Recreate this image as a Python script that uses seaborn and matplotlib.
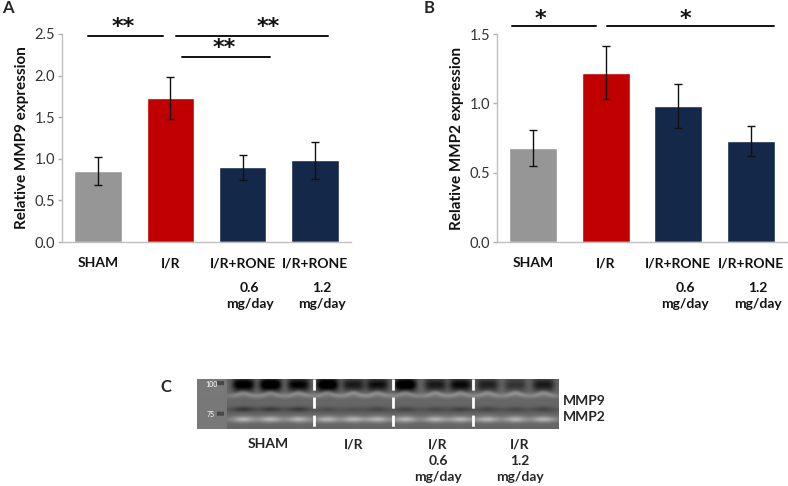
import numpy as np
import pandas as pd
import matplotlib
matplotlib.use("Agg")
import matplotlib.pyplot as plt
import matplotlib.transforms as mtransforms
import seaborn as sns

# ---- data ----
groups = ["SHAM", "I/R", "I/R+RONE 0.6", "I/R+RONE 1.2"]
tick_names = ["SHAM", "I/R", "I/R+RONE", "I/R+RONE"]
doses = ["", "", "0.6\nmg/day", "1.2\nmg/day"]
bar_colors = ["#969696", "#c00000", "#14284a", "#14284a"]

mmp9_mean = [0.85, 1.73, 0.90, 0.98]
mmp9_low = [0.68, 1.48, 0.75, 0.76]
mmp9_high = [1.02, 1.98, 1.05, 1.20]

mmp2_mean = [0.68, 1.22, 0.98, 0.73]
mmp2_low = [0.55, 1.03, 0.82, 0.62]
mmp2_high = [0.81, 1.41, 1.14, 0.84]

# significance bars: (x start, x end, y, label, label x, label y)
sig_a = [(-0.14, 0.90, 2.47, "**", 0.35, 2.58),
         (1.08, 3.18, 2.47, "**", 2.35, 2.58),
         (1.16, 2.38, 2.22, "**", 1.75, 2.33)]
sig_b = [(-0.29, 0.86, 1.555, "*", 0.10, 1.61),
         (1.02, 3.32, 1.555, "*", 2.10, 1.61)]

# zymography gel: lane positions (px inside gel) and band darkness
gel_lanes = [46, 73, 101, 130, 156, 180, 208, 238, 263, 290, 318, 346]
mmp9_band = [0.9, 1.0, 0.8, 1.0, 0.6, 0.7, 1.0, 0.6, 0.75, 0.55, 0.4, 0.6]
mmp2_band = [0.5, 0.45, 0.45, 0.2, 0.15, 0.3, 0.3, 0.25, 0.35, 0.3, 0.25, 0.3]
gel_dividers = [117, 196, 276]
gel_groups = ["SHAM", "I/R", "I/R\n0.6\nmg/day", "I/R\n1.2\nmg/day"]

sns.set_theme(style="white")
plt.rcParams["font.family"] = ["Lato", "DejaVu Sans"]

W, H = 788, 486
fig = plt.figure(figsize=(W / 100, H / 100), dpi=100)


def frac(x, y):
    return x / W, 1 - y / H


def bar_panel(rect, means, lows, highs, ymax, yticks, ylabel, sigs):
    ax = fig.add_axes(rect)
    df = pd.DataFrame({"group": groups, "value": means})
    sns.barplot(data=df, x="group", y="value", hue="group", palette=bar_colors,
                width=0.66, errorbar=None, legend=False, ax=ax, saturation=1)
    err = [np.array(means) - np.array(lows), np.array(highs) - np.array(means)]
    ax.errorbar(range(4), means, yerr=err, fmt="none", ecolor="#111111",
                elinewidth=1, capsize=3, capthick=1)
    ax.set_xlim(-0.5, 3.5)
    ax.set_ylim(0, ymax)
    ax.set_yticks(yticks)
    ax.set_yticklabels([f"{t:.1f}" for t in yticks], fontsize=10.5, color="#333333")
    ax.set_xticks(range(4))
    ax.set_xticklabels(tick_names, fontsize=10, fontweight="bold", color="#111111")
    ax.set_xticks([-0.5, 0.5, 1.5, 2.5, 3.5], minor=True)
    ax.tick_params(axis="x", which="major", length=0, pad=11)
    ax.tick_params(axis="x", which="minor", length=4, color="#b0b0b0", width=1, direction="out")
    ax.tick_params(axis="y", length=3, color="#b0b0b0", width=1, direction="out", left=True, pad=2)
    ax.set_xlabel("")
    ax.set_ylabel(ylabel, fontsize=11, fontweight="bold", color="#111111", labelpad=4)
    for s in ["top", "right"]:
        ax.spines[s].set_visible(False)
    for s in ["left", "bottom"]:
        ax.spines[s].set_color("#bfbfbf")
        ax.spines[s].set_linewidth(1)
    trans = mtransforms.blended_transform_factory(ax.transData, ax.transAxes)
    for i, d in enumerate(doses):
        if d:
            ax.text(i + 0.1, -0.19, d, transform=trans, ha="center", va="top",
                    fontsize=10, fontweight="bold", color="#111111", linespacing=1.45)
    for x0, x1, y, lab, lx, ly in sigs:
        ax.plot([x0, x1], [y, y], color="#111111", lw=1.4, clip_on=False)
        ax.text(lx, ly, lab, ha="center", va="center", fontsize=16,
                fontweight="bold", color="#111111", family="DejaVu Sans")
    return ax


bar_panel([62 / W, 1 - 242 / H, 289 / W, 208 / H], mmp9_mean, mmp9_low, mmp9_high,
          2.5, [0, 0.5, 1.0, 1.5, 2.0, 2.5], "Relative MMP9 expression", sig_a)
bar_panel([497 / W, 1 - 242 / H, 290 / W, 208 / H], mmp2_mean, mmp2_low, mmp2_high,
          1.5, [0, 0.5, 1.0, 1.5], "Relative MMP2 expression", sig_b)

for lab, x, y in [("A", 8, 8), ("B", 429, 8), ("C", 166, 387)]:
    fig.text(*frac(x, y), lab, fontsize=12, fontweight="bold", ha="center", va="center")

# ---- gel panel C ----
gx0, gy0, gw, gh = 197, 379, 362, 50
gax = fig.add_axes([gx0 / W, 1 - (gy0 + gh) / H, gw / W, gh / H])
xx, yy = np.meshgrid(np.arange(gw), np.arange(gh))
img = np.full((gh, gw), 0.40)
img += 0.05 * np.exp(-((yy - 17) / 2.5) ** 2)
img += 0.06 * np.exp(-((yy - 40) / 3.0) ** 2)
img -= 0.04 * np.exp(-((yy - 31) / 3.0) ** 2)
for c, d9, d2 in zip(gel_lanes, mmp9_band, mmp2_band):
    lane = np.exp(-((xx - c) / 11.0) ** 2)
    img -= 0.5 * d9 * np.exp(-((xx - c) / 11.0) ** 4) * np.exp(-((yy - 6) / 6.5) ** 2)
    img += 0.2 * lane * np.exp(-((yy - 17 + 3 * np.exp(-((xx - c) / 8.0) ** 2)) / 2.5) ** 2)
    img -= 0.3 * d2 * lane * np.exp(-((yy - 30) / 2.5) ** 2)
    img += 0.24 * lane * np.exp(-((yy - 40) / 3.0) ** 2)
img[:, :30] = 0.47
img[3:7, 20:27] = 0.28
img[33:37, 20:27] = 0.28
gax.imshow(np.clip(img, 0, 1), cmap="gray", vmin=0, vmax=1, aspect="auto",
           extent=(0, gw, gh, 0), interpolation="bilinear")
gax.vlines(gel_dividers, 0, gh, colors="white", linestyles=(0, (4, 2.5)), lw=2)
gax.text(8, 5, "100", color="white", fontsize=5, va="center", ha="left")
gax.text(10, 35, "75", color="white", fontsize=5, va="center", ha="left")
gax.set_xlim(0, gw)
gax.set_ylim(gh, 0)
gax.axis("off")

fig.text(*frac(563, 401), "MMP9", fontsize=10, fontweight="bold", ha="left", va="center")
fig.text(*frac(563, 417), "MMP2", fontsize=10, fontweight="bold", ha="left", va="center")
for lab, x in zip(gel_groups, [268, 354, 438, 520]):
    fig.text(*frac(x, 438), lab, fontsize=10, fontweight="bold", ha="center", va="top",
             linespacing=1.45)

fig.savefig("out.png", dpi=100)
